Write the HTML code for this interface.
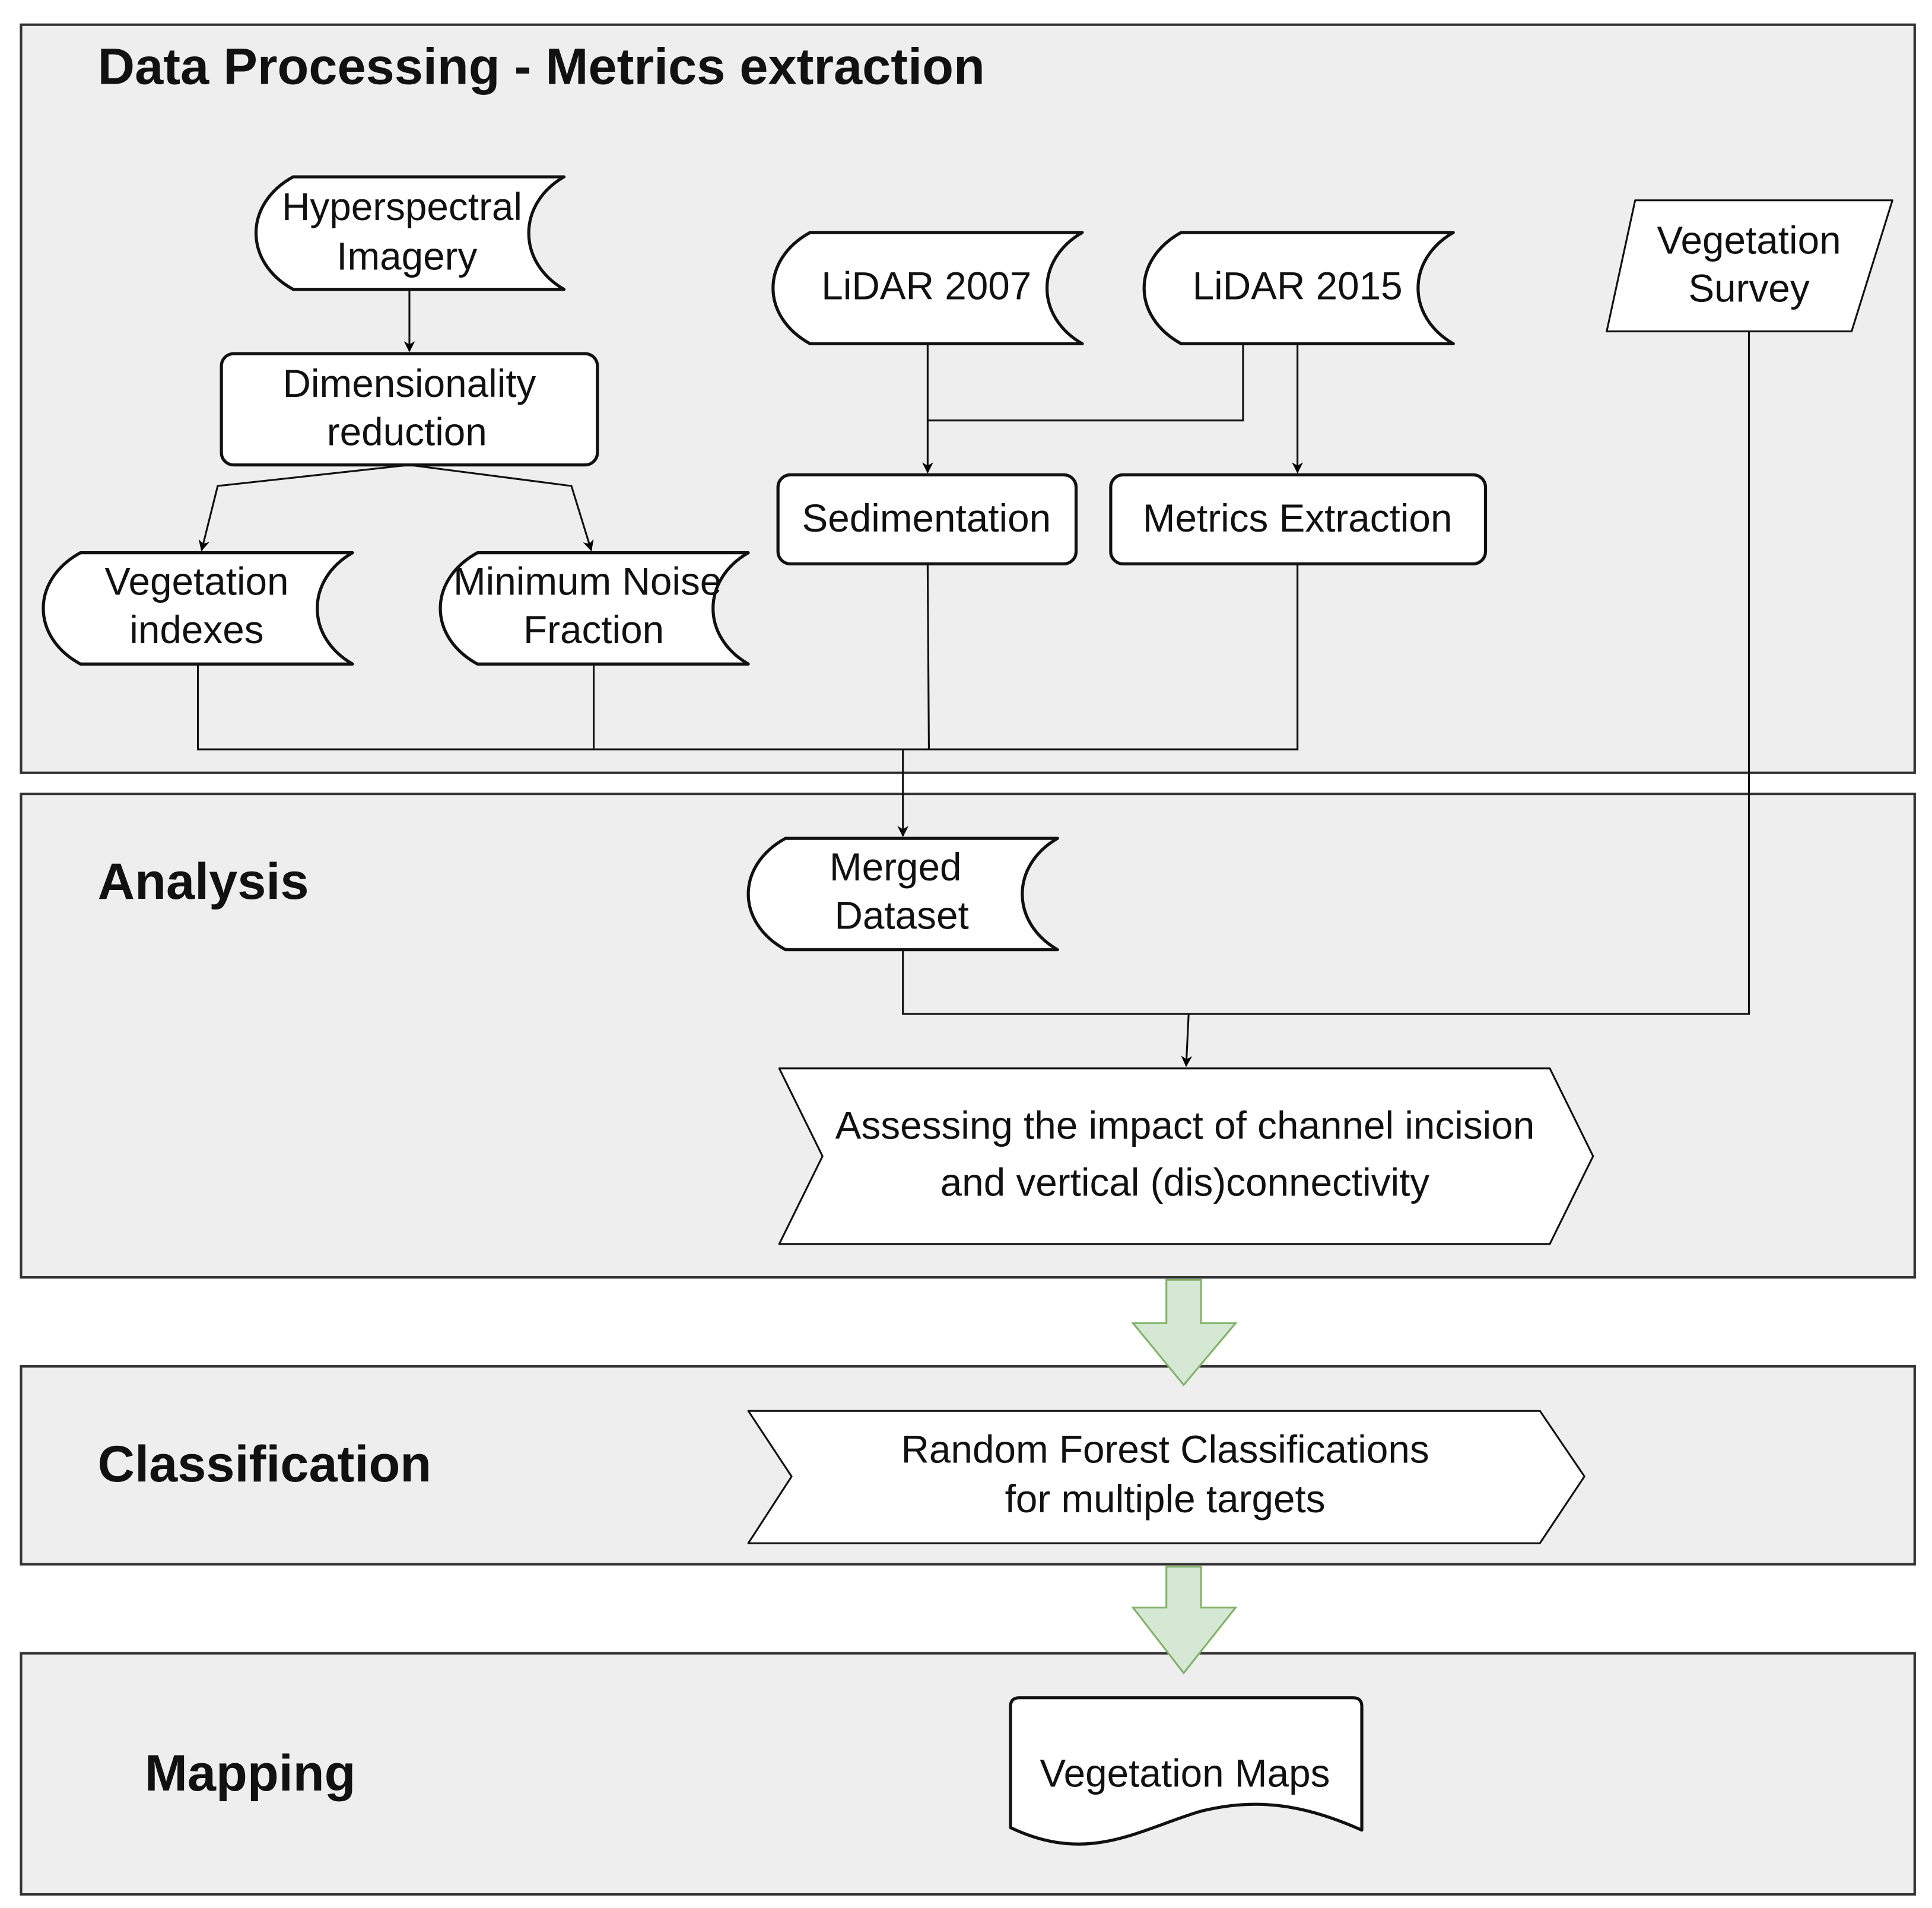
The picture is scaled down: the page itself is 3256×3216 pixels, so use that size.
<!DOCTYPE html>
<html><head><meta charset="utf-8"><style>
html,body{margin:0;padding:0;background:#fff}
svg{display:block}
text{font-family:"Liberation Sans",Arial,sans-serif;fill:#111}
</style></head><body>
<svg width="3256" height="3216" viewBox="0 0 1562 1543" preserveAspectRatio="none" xmlns="http://www.w3.org/2000/svg">
<defs>
<marker id="a" viewBox="0 0 10 10" refX="9" refY="5" markerWidth="9" markerHeight="9" orient="auto-start-reverse" markerUnits="userSpaceOnUse">
<path d="M0,0 L10,5 L0,10 L3,5 Z" fill="#000"/>
</marker>
</defs>
<rect x="0" y="0" width="1562" height="1543" fill="#fff"/>
<g fill="#eeeeee" stroke="#333" stroke-width="2">
<rect x="17" y="20" width="1531" height="605"/>
<rect x="17" y="642" width="1531" height="391"/>
<rect x="17" y="1105" width="1531" height="160"/>
<rect x="17" y="1337" width="1531" height="195"/>
</g>
<g font-weight="bold" font-size="41.5">
<text x="79" y="68">Data Processing - Metrics extraction</text>
<text x="79" y="727">Analysis</text>
<text x="79" y="1198">Classification</text>
<text x="117" y="1448">Mapping</text>
</g>

<g fill="none" stroke="#111" stroke-width="1.5">
<path d="M331,234 V284" marker-end="url(#a)"/>
<path d="M331,376 L176,393 L163,445" marker-end="url(#a)"/>
<path d="M331,376 L462,393 L478,445" marker-end="url(#a)"/>
<path d="M750,278 V382" marker-end="url(#a)"/>
<path d="M1005,278 V340 H750"/>
<path d="M1049,278 V382" marker-end="url(#a)"/>
<path d="M160,537 V606 H1049 V456"/>
<path d="M480,537 V606"/>
<path d="M750,456 L751,606"/>
<path d="M730,606 V676" marker-end="url(#a)"/>
<path d="M730,768 V820 H1414 V268"/>
<path d="M961,820 L959,862" marker-end="url(#a)"/>
</g>

<g fill="#fff" stroke="#111" stroke-width="2.5" stroke-linejoin="round">
<path d="M237,143 H456 C418,165 418,212 456,234 H237 C197,212 197,165 237,143 Z"/>
<path d="M655,188 H875 C837,210 837,256 875,278 H655 C615,256 615,210 655,188 Z"/>
<path d="M955,188 H1175 C1137,210 1137,256 1175,278 H955 C915,256 915,210 955,188 Z"/>
<path d="M65,447 H285 C247,469 247,515 285,537 H65 C25,515 25,469 65,447 Z"/>
<path d="M386,447 H605 C567,469 567,515 605,537 H386 C346,515 346,469 386,447 Z"/>
<path d="M635,678 H855 C817,700 817,746 855,768 H635 C595,746 595,700 635,678 Z"/>
<rect x="179" y="286" width="304" height="90" rx="10"/>
<rect x="629" y="384" width="241" height="72" rx="10"/>
<rect x="898" y="384" width="303" height="72" rx="10"/>
<path d="M1322,162 H1530 L1497,268 H1299 Z" stroke-width="1.5"/>
<path d="M630,864 H1253 L1288,935 L1253,1006 H630 L665,935 Z" stroke-width="1.5"/>
<path d="M605,1141 H1245 L1281,1194 L1245,1248 H605 L640,1194 Z" stroke-width="1.5"/>
<path d="M817,1380 Q817,1373 824,1373 H1094 Q1101,1373 1101,1380 V1480 C1060,1462 1020,1452 970,1465 C920,1480 880,1508 817,1478 Z"/>
</g>

<g fill="#d5e8d4" stroke="#82b366" stroke-width="1.5">
<path d="M943,1035 H971 V1070 H999 L957,1120 L916,1070 H943 Z"/>
<path d="M943,1267 H971 V1300 H999 L957,1353 L916,1300 H943 Z"/>
</g>

<g font-size="31.5" text-anchor="middle">
<text x="325" y="178">Hyperspectral</text>
<text x="329" y="218">Imagery</text>
<text x="331" y="321">Dimensionality</text>
<text x="329" y="360">reduction</text>
<text x="749" y="242">LiDAR 2007</text>
<text x="1049" y="242">LiDAR 2015</text>
<text x="1414" y="205">Vegetation</text>
<text x="1414" y="244">Survey</text>
<text x="749" y="430">Sedimentation</text>
<text x="1049" y="430">Metrics Extraction</text>
<text x="159" y="481">Vegetation</text>
<text x="159" y="520">indexes</text>
<text x="475" y="481">Minimum Noise</text>
<text x="480" y="520">Fraction</text>
<text x="724" y="712">Merged</text>
<text x="729" y="751">Dataset</text>
<text x="958" y="921">Assessing the impact of channel incision</text>
<text x="958" y="967">and vertical (dis)connectivity</text>
<text x="942" y="1183">Random Forest Classifications</text>
<text x="942" y="1223">for multiple targets</text>
<text x="958" y="1445">Vegetation Maps</text>
</g>
</svg>
</body></html>
